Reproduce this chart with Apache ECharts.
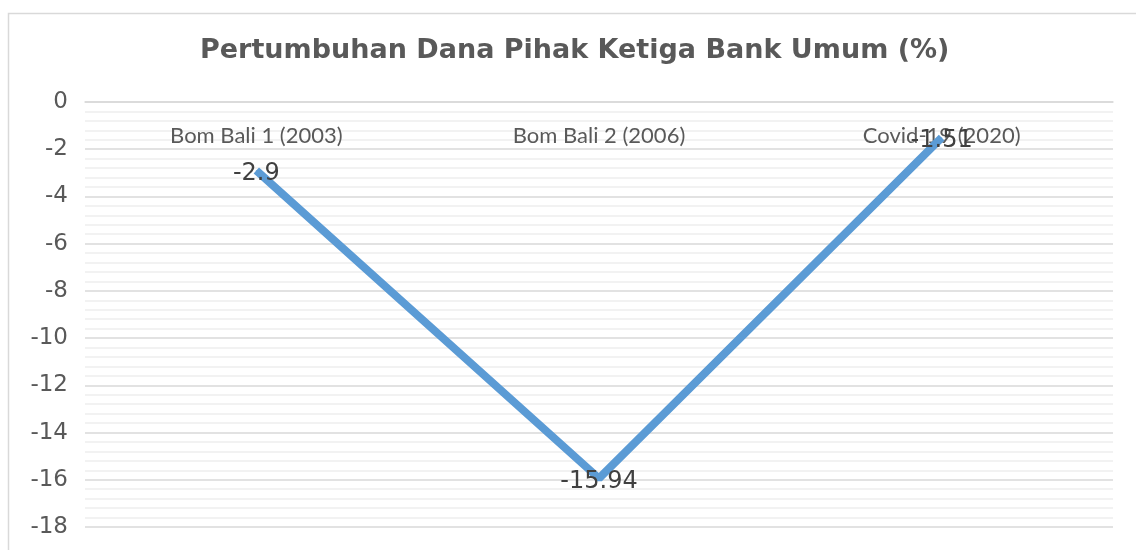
<!DOCTYPE html>
<html>
<head>
<meta charset="utf-8">
<script src="https://cdn.jsdelivr.net/npm/echarts@6/dist/echarts.min.js"></script>
<style>
html,body{margin:0;padding:0;background:#fff;}
#chart{width:1136px;height:550px;}
</style>
</head>
<body>
<div id="chart"></div>
<script>
const titleText = 'Pertumbuhan Dana Pihak Ketiga Bank Umum (%)';
const categories = ['Bom Bali 1 (2003)', 'Bom Bali 2 (2006)', 'Covid-19 (2020)'];
const values = [-2.9, -15.94, -1.51];
const yMin = -18, yMax = 0, yStep = 2;

const chart = echarts.init(document.getElementById('chart'), null, {renderer: 'canvas'});
chart.setOption({
  backgroundColor: '#ffffff',
  animation: false,
  graphic: [{
    type: 'rect',
    shape: {x: 8.5, y: 13.5, width: 1140, height: 560},
    style: {fill: 'none', stroke: '#d9d9d9', lineWidth: 1.5},
    silent: true, z: -1
  }],
  title: {
    text: titleText,
    left: 195,
    top: 32,
    textStyle: {fontFamily: 'DejaVu Sans', fontWeight: 'bold', fontSize: 27, color: '#595959'}
  },
  grid: {left: 85, right: 23, top: 102, bottom: 23},
  xAxis: {
    type: 'category',
    data: categories,
    position: 'top',
    boundaryGap: true,
    axisLine: {show: true, lineStyle: {color: '#d9d9d9', width: 1.5}},
    axisTick: {show: false},
    axisLabel: {inside: true, margin: 23, fontFamily: 'Lato', fontSize: 22, color: '#595959'},
    splitLine: {show: false}
  },
  yAxis: {
    type: 'value',
    min: yMin, max: yMax, interval: yStep,
    axisLine: {show: false},
    axisTick: {show: false},
    axisLabel: {margin: 17, fontFamily: 'DejaVu Sans', fontSize: 23, color: '#595959', padding: [3, 0, 0, 0]},
    splitLine: {show: true, lineStyle: {color: '#d9d9d9', width: 1.5}},
    minorTick: {show: false, splitNumber: 5},
    minorSplitLine: {show: true, lineStyle: {color: '#eeeeee', width: 1.5}}
  },
  series: [{
    type: 'line',
    data: values,
    symbol: 'circle',
    symbolSize: 1,
    itemStyle: {color: '#5b9bd5'},
    lineStyle: {color: '#5b9bd5', width: 8},
    label: {
      show: true,
      position: 'inside',
      offset: [0, 3],
      fontFamily: 'DejaVu Sans',
      fontSize: 24,
      color: '#404040'
    },
    z: 3
  }]
});
</script>
</body>
</html>
